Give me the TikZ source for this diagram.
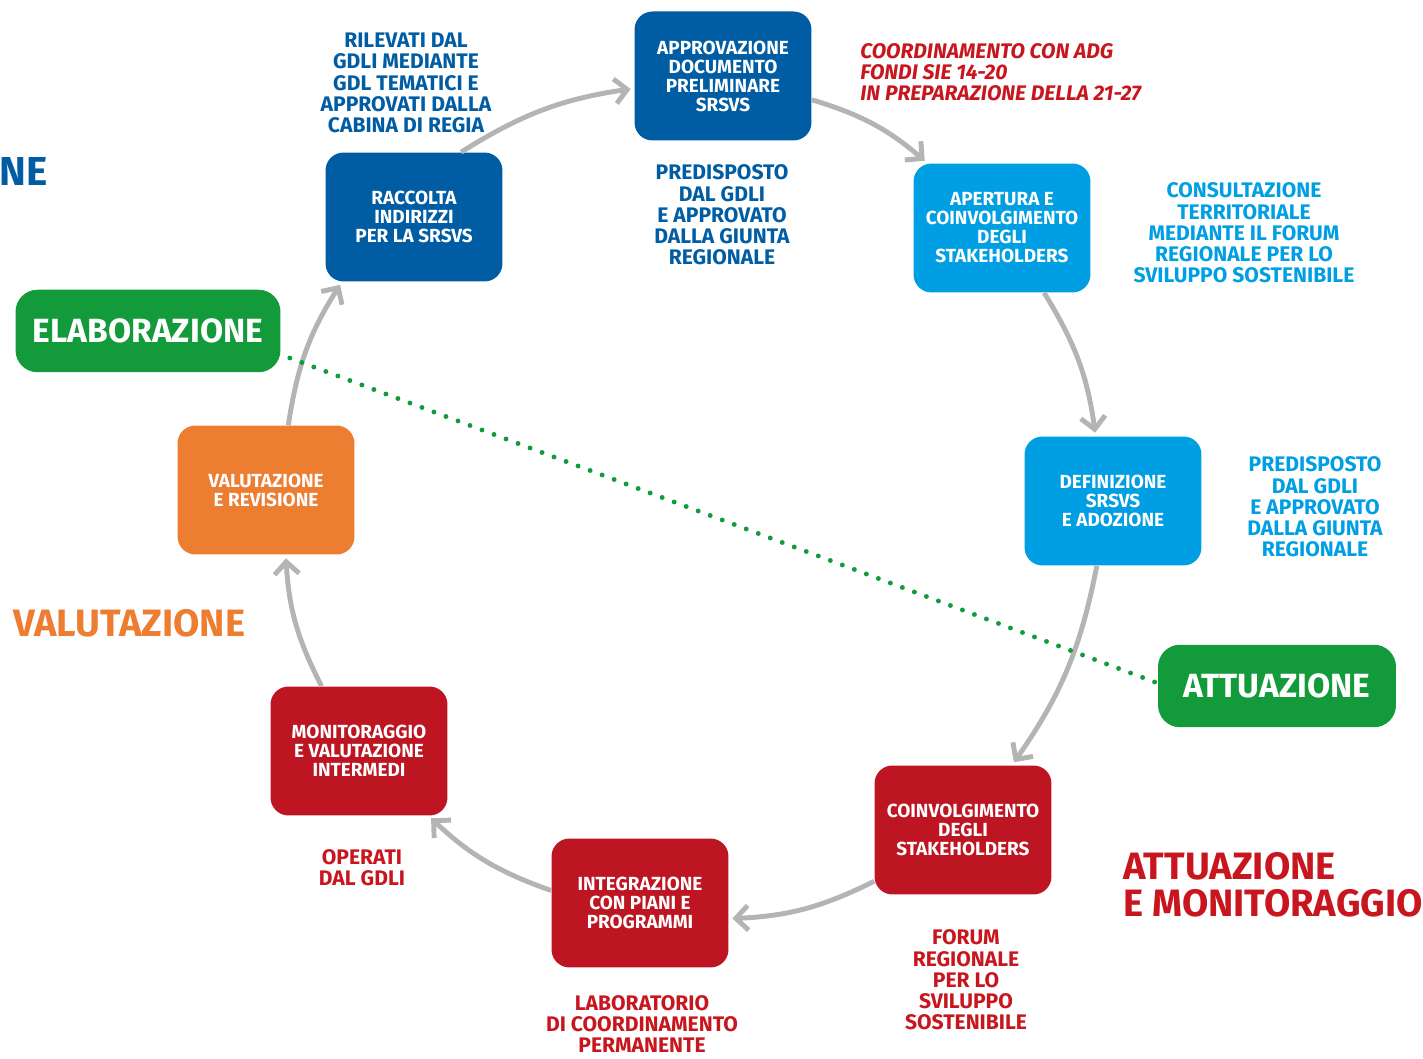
\documentclass[tikz,border=0pt]{standalone}
\usepackage{fontspec}
\setmainfont{Fira Sans}
\usepackage{xcolor}
\usetikzlibrary{arrows, arrows.meta}
\usetikzlibrary{positioning}
\usetikzlibrary{calc}

\definecolor{dblue}{HTML}{005DA4}
\definecolor{lblue}{HTML}{009FE3}
\definecolor{boxred}{HTML}{BD1622}
\definecolor{txtred}{HTML}{C8161E}
\definecolor{boxorange}{HTML}{ED7D31}
\definecolor{phgreen}{HTML}{139A3A}
\definecolor{arrgray}{HTML}{B4B4B4}

\begin{document}
\begin{tikzpicture}[x=0.02cm, y=0.02cm,
	stepbox/.style={rectangle, rounded corners=0.36cm, minimum width=3.54cm, minimum height=2.58cm, inner sep=0pt, text=white, align=center, font=\bfseries\fontsize{10.8}{10.8}\selectfont},
	phasebox/.style={rectangle, rounded corners=0.44cm, fill=phgreen, text=white, inner sep=0pt, minimum height=1.65cm, font=\bfseries\fontsize{19.1}{21}\selectfont},
	note/.style={inner sep=0pt, align=center, font=\bfseries\fontsize{12}{12.1}\selectfont},
	heading/.style={inner sep=0pt, font=\bfseries\fontsize{21.7}{21}\selectfont},
	cyclearrow/.style={draw=arrgray, line width=2.8pt, -{Straight Barb[length=7pt,width=14pt]}, bend left=12, shorten >=2pt}]
					\useasboundingbox (0,0) rectangle (1423,1058);
					% steps of the cycle
					\node[stepbox, fill=dblue] (approv) at (723,982) {APPROVAZIONE\\DOCUMENTO\\PRELIMINARE\\SRSVS};
					\node[stepbox, fill=dblue] (raccolta) at (414,841) {RACCOLTA\\INDIRIZZI\\PER LA SRSVS};
					\node[stepbox, fill=lblue] (apertura) at (1002,830) {APERTURA E\\COINVOLGIMENTO\\DEGLI\\STAKEHOLDERS};
					\node[stepbox, fill=lblue] (definizione) at (1113,557) {DEFINIZIONE\\SRSVS\\E ADOZIONE};
					\node[stepbox, fill=boxred] (coinv) at (963,228) {COINVOLGIMENTO\\DEGLI\\STAKEHOLDERS};
					\node[stepbox, fill=boxred] (integr) at (640,155) {INTEGRAZIONE\\CON PIANI E\\PROGRAMMI};
					\node[stepbox, fill=boxred] (monit) at (359,307) {MONITORAGGIO\\E VALUTAZIONE\\INTERMEDI};
					\node[stepbox, fill=boxorange] (valut) at (266,568) {VALUTAZIONE\\E REVISIONE};
					
					% phases
					\node[phasebox, minimum width=5.3cm] (elab) at (148,727) {ELABORAZIONE};
					\node[phasebox, minimum width=4.76cm] (attu) at (1277,372) {ATTUAZIONE};
					
					% notes
					\node[note, text=dblue] (rilevati) at (406,975) {RILEVATI DAL\\GDLI MEDIANTE\\GDL TEMATICI E\\APPROVATI DALLA\\CABINA DI REGIA};
					\node[note, text=dblue] (predisp) at (722,843) {PREDISPOSTO\\DAL GDLI\\E APPROVATO\\DALLA GIUNTA\\REGIONALE};
					\node[note, text=txtred, anchor=west, align=left, font=\bfseries\itshape\fontsize{12}{12.1}\selectfont] (coord) at (860,986) {COORDINAMENTO CON ADG\\FONDI SIE 14-20\\IN PREPARAZIONE DELLA 21-27};
					\node[note, text=lblue] (consult) at (1244,825) {CONSULTAZIONE\\TERRITORIALE\\MEDIANTE IL FORUM\\REGIONALE PER LO\\SVILUPPO SOSTENIBILE};
					\node[note, text=lblue] (predispb) at (1315,551) {PREDISPOSTO\\DAL GDLI\\E APPROVATO\\DALLA GIUNTA\\REGIONALE};
					\node[note, text=txtred] (forum) at (966,78) {FORUM\\REGIONALE\\PER LO\\SVILUPPO\\SOSTENIBILE};
					\node[note, text=txtred] (lab) at (642,34) {LABORATORIO\\DI COORDINAMENTO\\PERMANENTE};
					\node[note, text=txtred] (operati) at (362,190) {OPERATI\\DAL GDLI};
					
					% big headings
					\node[heading, text=dblue, font=\bfseries\fontsize{23}{23}\selectfont, anchor=east] (ne) at (48,886) {NE};
					\node[heading, text=boxorange, anchor=west] (valhead) at (13,435) {VALUTAZIONE};
					\node[heading, text=txtred, anchor=west, align=left] (attuhead) at (1123,173) {ATTUAZIONE\\E MONITORAGGIO};
					
					% cycle arrows
					\draw[cyclearrow] (raccolta.54) to (approv.188);
					\draw[cyclearrow] (approv.345) to (apertura.139);
					\draw[cyclearrow] (apertura.303) to (definizione.105);
					\draw[cyclearrow] (definizione.256) to (coinv.53);
					\draw[cyclearrow] (coinv.210) to (integr.350);
					\draw[cyclearrow] (integr.172) to (monit.317);
					\draw[cyclearrow] (monit.120) to (valut.287);
					\draw[cyclearrow] (valut.71) to (raccolta.222);
					
					% dotted divide
					\draw[phgreen, line width=2.8pt, line cap=round, dash pattern=on 0pt off 7.3pt] ($(elab.east)+(9,-27)$) -- ($(attu.west)+(-3,4)$);
				\end{tikzpicture}
\end{document}
